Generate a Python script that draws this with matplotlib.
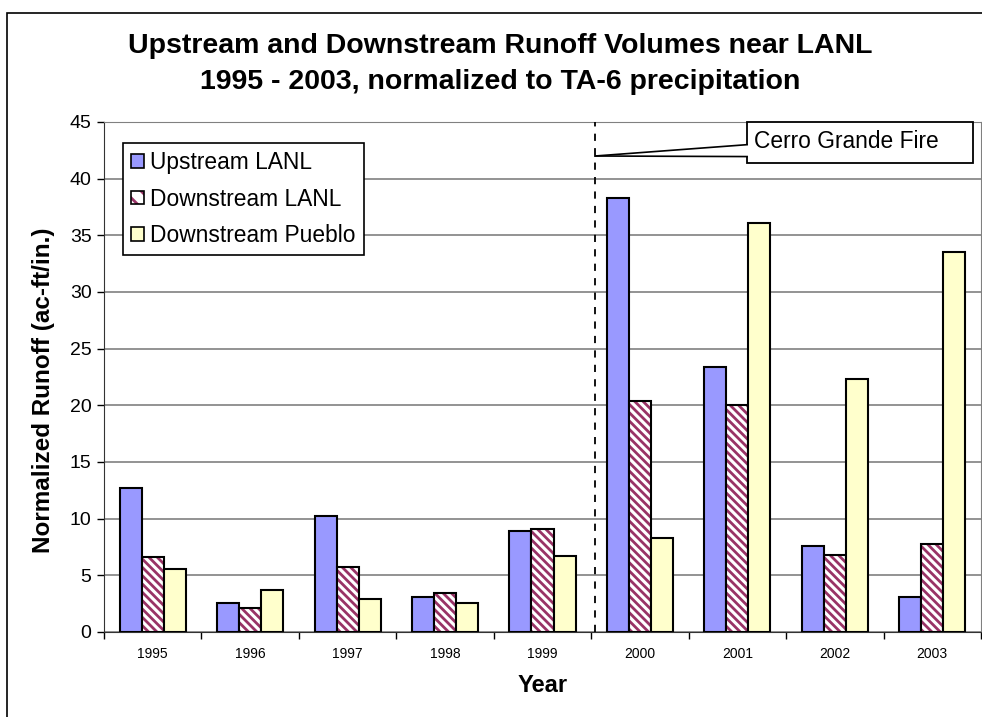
import numpy as np
import matplotlib
matplotlib.use("Agg")
import matplotlib.pyplot as plt
from matplotlib.patches import Rectangle, Polygon

plt.rcParams['font.family'] = ['Liberation Sans', 'DejaVu Sans']
plt.rcParams['hatch.linewidth'] = 2.0

# ---- data ----
years = ['1995', '1996', '1997', '1998', '1999', '2000', '2001', '2002', '2003']
upstream_lanl = [12.7, 2.6, 10.2, 3.1, 8.9, 38.3, 23.4, 7.6, 3.1]
downstream_lanl = [6.6, 2.1, 5.7, 3.4, 9.1, 20.4, 20.0, 6.8, 7.8]
downstream_pueblo = [5.6, 3.7, 2.9, 2.6, 6.7, 8.3, 36.1, 22.3, 33.5]
series_names = ['Upstream LANL', 'Downstream LANL', 'Downstream Pueblo']
fire_x = 4.54          # position of the Cerro Grande Fire marker
fire_label = 'Cerro Grande Fire'

blue = '#9999FF'
maroon = '#993366'
yellow = '#FFFFCC'
stripes = '\\\\\\\\'

fig = plt.figure(figsize=(9.82, 7.17), dpi=100)
ax = fig.add_axes([104 / 982, 1 - 632 / 717, 877 / 982, 510 / 717])

x = np.arange(len(years))
w = 0.226
ax.bar(x - w, upstream_lanl, w, color=blue, edgecolor='black', linewidth=1.5, zorder=3)
# hatched series: stripes first, then black outline
ax.bar(x, downstream_lanl, w, color='white', edgecolor=maroon, hatch=stripes, linewidth=0,
       zorder=3)
ax.bar(x, downstream_lanl, w, fill=False, edgecolor='black', linewidth=1.5, zorder=3)
ax.bar(x + w, downstream_pueblo, w, color=yellow, edgecolor='black', linewidth=1.5, zorder=3)

ax.set_xlim(-0.5, len(years) - 0.5)
ax.set_ylim(0, 45)
ax.set_yticks(np.arange(0, 46, 5))
ax.yaxis.grid(True, color='#808080', linewidth=1.2, zorder=0)
ax.set_axisbelow(True)

ax.set_xticks(x)
ax.set_xticklabels(years, fontsize=10)
ax.set_xticks(np.arange(-0.5, len(years), 1), minor=True)
ax.tick_params(axis='x', which='major', length=0, pad=11)
ax.tick_params(axis='x', which='minor', length=5, width=1, direction='out')
ax.tick_params(axis='y', length=5, width=1, direction='out', labelsize=14, pad=4)

for side in ['top', 'right']:
    ax.spines[side].set_color('#808080')
ax.spines['left'].set_color('#333333')
ax.spines['bottom'].set_color('#333333')

ax.set_xlabel('Year', fontsize=17, fontweight='bold', labelpad=9)
ax.set_ylabel('Normalized Runoff (ac-ft/in.)', fontsize=17.5, fontweight='bold')
ax.yaxis.set_label_coords(-0.0559, 0.4745)

# fire marker and callout
ax.axvline(fire_x, color='black', linestyle=(0, (4, 4)), linewidth=1.3, zorder=4)
box = Rectangle((6.10, 41.4), 2.32, 3.6, facecolor='white', edgecolor='black',
                linewidth=1.3, zorder=5, clip_on=False)
ax.add_patch(box)
wedge = Polygon([(fire_x, 42.0), (6.12, 43.0), (6.12, 41.95)], closed=True,
                facecolor='white', edgecolor='none', zorder=6)
ax.add_patch(wedge)
ax.plot([fire_x, 6.10], [42.0, 43.0], color='black', linewidth=1.2, zorder=6)
ax.plot([fire_x, 6.10], [42.0, 41.95], color='black', linewidth=1.2, zorder=6)
ax.text(6.17, 43.3, fire_label, fontsize=16.4, va='center', ha='left', zorder=7)

# legend
handles = [
    Rectangle((0, 0), 1, 1, facecolor=blue, edgecolor='black', linewidth=1.2),
    (Rectangle((0, 0), 1, 1, facecolor='white', edgecolor=maroon, hatch='\\\\', linewidth=0),
     Rectangle((0, 0), 1, 1, fill=False, edgecolor='black', linewidth=1.2)),
    Rectangle((0, 0), 1, 1, facecolor=yellow, edgecolor='black', linewidth=1.2),
]
leg = ax.legend(handles, series_names,
                loc='upper left', bbox_to_anchor=(0.0217, 0.959), borderaxespad=0,
                fontsize=16.4, fancybox=False, framealpha=1, edgecolor='black',
                handlelength=0.55, handleheight=0.55, handletextpad=0.3,
                labelspacing=0.6, borderpad=0.35)
leg.get_frame().set_linewidth(1.2)
leg.set_zorder(8)

fig.text(500 / 982, 1 - 64 / 717, 'Upstream and Downstream Runoff Volumes near LANL\n'
         '1995 - 2003, normalized to TA-6 precipitation',
         ha='center', va='center', fontsize=20.5, fontweight='bold', linespacing=1.5)

# outer chart border
fig.patches.append(Rectangle((7 / 982, -0.05), 1.1, 1 - 13 / 717 + 0.05,
                             transform=fig.transFigure, fill=False,
                             edgecolor='black', linewidth=1.2))

fig.savefig('out.png', dpi=100)
